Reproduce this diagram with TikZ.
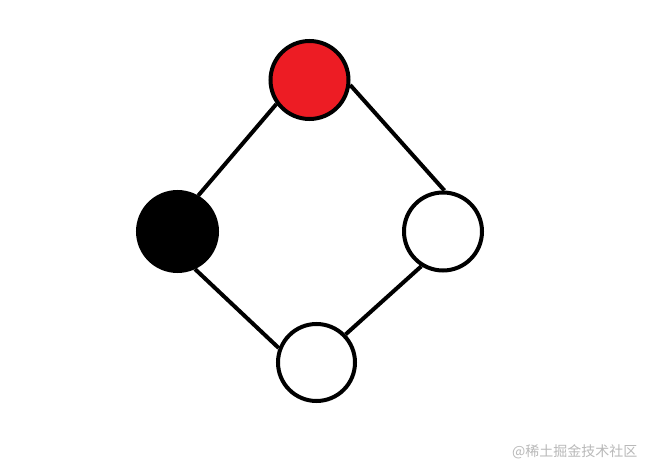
\documentclass[tikz,border=0pt]{standalone}
\usepackage{fontspec}
\newfontfamily\cjk{Noto Sans CJK SC}
\definecolor{nodered}{RGB}{237,28,36}
\definecolor{wmgray}{RGB}{185,185,185}
\begin{document}
\begin{tikzpicture}[x=1pt,y=1pt,
  vert/.style={circle,draw=black,line width=4pt,minimum size=78pt,inner sep=0pt},
  edge/.style={line width=4pt}]
\useasboundingbox[fill=white] (0,0) rectangle (654,472);
\node[vert,fill=nodered] (r) at (309.5,392) {};
\node[vert,fill=black,minimum size=79pt] (b) at (177.5,240.5) {};
\node[vert,fill=white] (w) at (443,240.5) {};
\node[vert,fill=white,minimum size=77pt] (d) at (316.5,109.5) {};
\draw[edge] (r.216.7) -- (b.60.7);
\draw[edge] (r.353) -- (w.88.5);
\draw[edge] (b.295.6) -- (d.159.4);
\draw[edge] (w.238.2) -- (d.44);
\node[text=wmgray,font=\cjk\fontsize{14}{16}\selectfont,anchor=east] (wm) at (641,20) {@稀土掘金技术社区};
\end{tikzpicture}
\end{document}
